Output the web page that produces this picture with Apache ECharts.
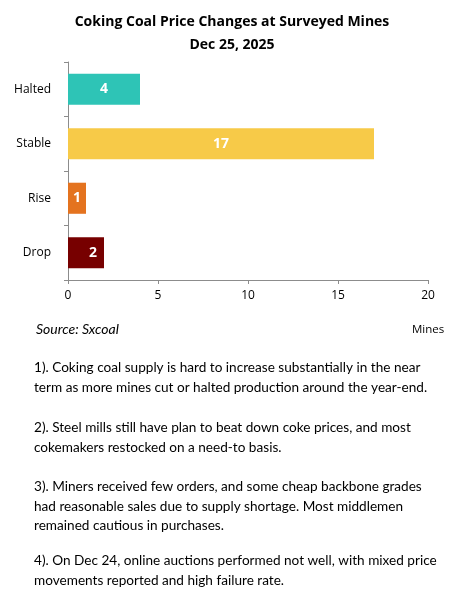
<!DOCTYPE html>
<html>
<head>
<meta charset="utf-8">
<script src="https://cdn.jsdelivr.net/npm/echarts@6/dist/echarts.min.js"></script>
<style>
  html, body { margin: 0; padding: 0; background: #fff; }
  #main { width: 464px; height: 615px; }
</style>
</head>
<body>
<div id="main"></div>
<script>
// chart data
const categories = ['Halted', 'Stable', 'Rise', 'Drop'];
const mines = [4, 17, 1, 2];
const barColors = ['#2EC4B6', '#F7CA48', '#E4731F', '#770000'];
const labelPos = ['inside', 'inside', 'inside', 'insideRight'];
const xTicks = [0, 5, 10, 15, 20];

const notes = [
  '1). Coking coal supply is hard to increase substantially in the near\nterm as more mines cut or halted production around the year-end.',
  '2). Steel mills still have plan to beat down coke prices, and most\ncokemakers restocked on a need-to basis.',
  '3). Miners received few orders, and some cheap backbone grades\nhad reasonable sales due to supply shortage. Most middlemen\nremained cautious in purchases.',
  '4). On Dec 24, online auctions performed not well, with mixed price\nmovements reported and high failure rate.'
];
const noteTops = [358, 418, 477, 551];

const chart = echarts.init(document.getElementById('main'), null, { renderer: 'canvas' });

const axisGray = '#8c8c8c';
const bodyFont = 'Lato, "Noto Sans", sans-serif';

chart.setOption({
  animation: false,
  title: {
    text: 'Coking Coal Price Changes at Surveyed Mines\nDec 25, 2025',
    left: 'center',
    top: 6,
    textStyle: {
      fontFamily: '"Open Sans", sans-serif',
      fontWeight: 'bold',
      fontSize: 14,
      lineHeight: 23,
      color: '#000'
    }
  },
  grid: { left: 68, right: 36, top: 62, bottom: 335 },
  xAxis: {
    type: 'value',
    min: xTicks[0],
    max: xTicks[xTicks.length - 1],
    interval: 5,
    name: 'Mines',
    nameLocation: 'end',
    nameGap: 0,
    nameTextStyle: {
      fontFamily: '"Open Sans", sans-serif',
      fontSize: 11.5,
      color: '#000',
      align: 'center',
      verticalAlign: 'top',
      padding: [44, 0, 0, 0]
    },
    splitLine: { show: false },
    axisLine: { show: true, lineStyle: { color: axisGray, width: 1 } },
    axisTick: { show: true, length: 4, lineStyle: { color: axisGray } },
    axisLabel: {
      margin: 10,
      fontFamily: '"Open Sans", sans-serif',
      fontSize: 12,
      color: '#000'
    }
  },
  yAxis: {
    type: 'category',
    data: categories,
    inverse: true,
    axisLine: { show: true, lineStyle: { color: axisGray, width: 1 } },
    axisTick: { show: true, length: 4, lineStyle: { color: axisGray } },
    axisLabel: {
      margin: 17,
      fontFamily: '"Open Sans", sans-serif',
      fontSize: 12,
      color: '#000'
    }
  },
  series: [{
    type: 'bar',
    barWidth: '57%',
    data: mines.map((v, i) => ({
      value: v,
      itemStyle: { color: barColors[i] },
      label: { position: labelPos[i], offset: labelPos[i] === 'insideRight' ? [-2, 0] : [0, 0] }
    })),
    label: {
      show: true,
      color: '#fff',
      fontWeight: 'bold',
      fontSize: 14,
      fontFamily: '"Open Sans", sans-serif'
    }
  }],
  graphic: [
    {
      type: 'text',
      left: 36,
      top: 322,
      style: {
        text: 'Source: Sxcoal',
        font: 'italic 14px ' + bodyFont,
        fill: '#000'
      }
    }
  ].concat(notes.map((t, i) => ({
    type: 'text',
    left: 34,
    top: noteTops[i],
    style: {
      text: t,
      font: '13.6px ' + bodyFont,
      lineHeight: 19.5,
      fill: '#000'
    }
  })))
});
</script>
</body>
</html>
